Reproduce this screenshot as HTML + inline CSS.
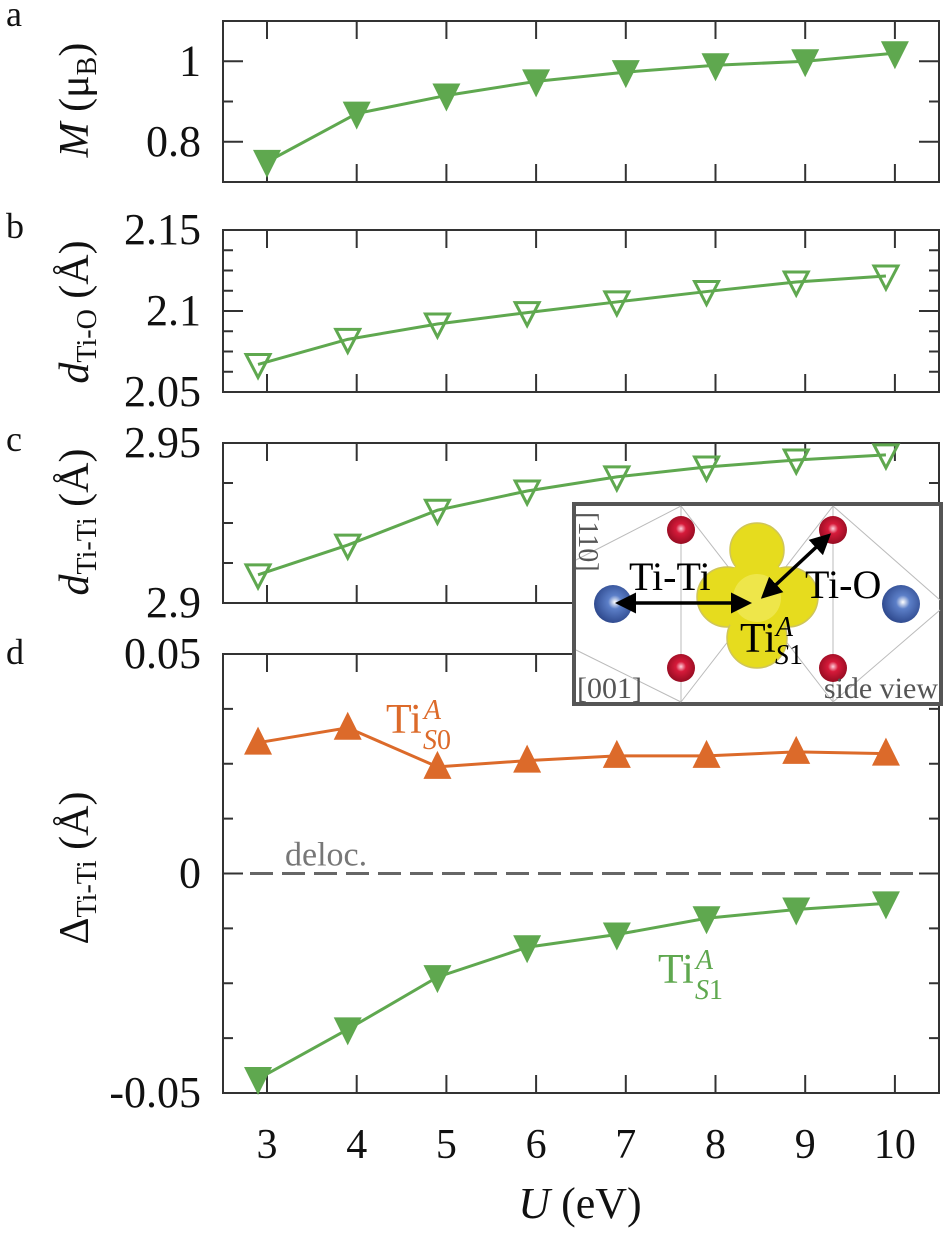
<!DOCTYPE html>
<html><head><meta charset="utf-8">
<style>
html,body{margin:0;padding:0;background:#fff;}
svg, svg text{font-family:"Liberation Serif","Times New Roman",serif;}
</style></head>
<body>
<svg id="fig" width="950" height="1232" viewBox="0 0 950 1232" xmlns="http://www.w3.org/2000/svg"></svg>
<script>
// ---- data ----
const uValues = [3, 4, 5, 6, 7, 8, 9, 10];
const uPlotted = [2.9, 3.9, 4.9, 5.9, 6.9, 7.9, 8.9, 9.9];
const xTickLabels = ["3","4","5","6","7","8","9","10"];
const momentM = [0.75, 0.87, 0.915, 0.95, 0.973, 0.99, 1.0, 1.02];
const dTiO = [2.067, 2.0825, 2.092, 2.099, 2.1056, 2.112, 2.1179, 2.1216];
const dTiTi = [2.9088, 2.9181, 2.929, 2.935, 2.9394, 2.9425, 2.9447, 2.9463];
const deltaS0 = [0.0298, 0.0332, 0.0243, 0.0257, 0.0268, 0.0268, 0.0277, 0.0273];
const deltaS1 = [-0.0468, -0.0355, -0.0236, -0.0168, -0.0139, -0.0102, -0.0082, -0.0068];
const aTicks = ["0.8","1"];
const bTicks = ["2.05","2.1","2.15"];
const cTicks = ["2.9","2.95"];
const dTicks = ["-0.05","0","0.05"];

const NS = "http://www.w3.org/2000/svg";
const svg = document.getElementById('fig');
const GREEN = "#5fa84f", ORANGE = "#dc6a2a", AXC = "#333";
const SERIF = '"Liberation Serif", "Times New Roman", serif';
function el(tag, attrs, parent){
  const e = document.createElementNS(NS, tag);
  for (const k in attrs) e.setAttribute(k, attrs[k]);
  (parent||svg).appendChild(e);
  return e;
}
const L = 223, R = 939;
function xs(u){ return 267 + (u - 3) * 89.7; }

function panel(name, top, bot, vmin, vmax, majors, labels, minorStep){
  const g = el('g', {});
  
  
  const ys = v => bot - (v - vmin) / (vmax - vmin) * (bot - top);
  const frame = el('rect', {x:L, y:top, width:R-L, height:bot-top, fill:'none', stroke:AXC, 'stroke-width':2}, g);
  
  
  uValues.forEach(u => {
    const x = xs(u);
    el('line', {x1:x, y1:top, x2:x, y2:top+18, stroke:AXC, 'stroke-width':2}, g);
    el('line', {x1:x, y1:bot, x2:x, y2:bot-18, stroke:AXC, 'stroke-width':2}, g);
  });
  const n = Math.round((vmax - vmin) / minorStep);
  for (let i = 1; i < n; i++){
    const v = vmin + i * minorStep;
    const isMajor = majors.some(m => Math.abs(m - v) < 1e-9);
    const len = isMajor ? 20 : 10;
    const y = ys(v);
    el('line', {x1:L, y1:y, x2:L+len, y2:y, stroke:AXC, 'stroke-width':2}, g);
    el('line', {x1:R, y1:y, x2:R-len, y2:y, stroke:AXC, 'stroke-width':2}, g);
  }
  majors.forEach((m, i) => {
    const t = el('text', {x:201, y:ys(m)+14, 'text-anchor':'end', 'font-size':44, fill:'#111', 'font-family':SERIF}, g);
    t.textContent = labels[i];
    
    
  });
  return {g, ys};
}
function series(p, xsArr, vals, color, kind, sname){
  const g = el('g', {}, p.g);
  
  
  const pts = vals.map((v, i) => [xs(xsArr[i]), p.ys(v)]);
  el('polyline', {points:pts.map(q=>q.join(',')).join(' '), fill:'none', stroke:color, 'stroke-width':3}, g);
  pts.forEach(([x, y]) => {
    let d;
    if (kind === 'up') d = `M${x-14},${y+12} L${x+14},${y+12} L${x},${y-16} Z`;
    else d = `M${x-14},${y-12} L${x+14},${y-12} L${x},${y+16} Z`;
    const m = el('path', {d}, g);
    if (kind === 'open') { m.setAttribute('fill','none'); m.setAttribute('stroke',color); m.setAttribute('stroke-width',3); m.setAttribute('d', `M${x-12},${y-10} L${x+12},${y-10} L${x},${y+13} Z`); }
    else m.setAttribute('fill', color);
    
    
  });
}
function text(x, y, s, size, attrs, name){
  const t = el('text', Object.assign({x, y, 'font-size':size, 'font-family':SERIF}, attrs||{}));
  t.innerHTML = s;
  
  
  return t;
}

// panel a
const pa = panel('panel-a', 21, 182, 0.7, 1.1, [0.8, 1.0], aTicks, 0.1);
series(pa, uValues, momentM, GREEN, 'down', 'moment-series');
// panel b
const pb = panel('panel-b', 230, 392, 2.05, 2.15, [2.05, 2.1, 2.15], bTicks, 0.0125);
series(pb, uPlotted, dTiO, GREEN, 'open', 'ti-o-distance-series');
// panel c
const pc = panel('panel-c', 443, 603, 2.9, 2.95, [2.9, 2.95], cTicks, 0.0125);
series(pc, uPlotted, dTiTi, GREEN, 'open', 'ti-ti-distance-series');
// panel d
const pd = panel('panel-d', 654, 1093, -0.05, 0.05, [-0.05, 0, 0.05], dTicks, 0.0125);
const z = pd.ys(0);
const dl = el('line', {x1:250, y1:z, x2:915, y2:z, stroke:'#666', 'stroke-width':3, 'stroke-dasharray':'23,9'}, pd.g);


text(285, z-8, 'deloc.', 34, {fill:'#777'}, 'deloc-label');
series(pd, uPlotted, deltaS0, ORANGE, 'up', 'ti-s0-series');
series(pd, uPlotted, deltaS1, GREEN, 'down', 'ti-s1-series');
text(386, 733, 'Ti<tspan font-style="italic" font-size="28" dx="2" dy="-14">A</tspan><tspan font-style="italic" font-size="28" dx="-18" dy="30">S</tspan><tspan font-size="28" dy="0">0</tspan>', 42, {fill:ORANGE}, 'ti-s0-label');
text(658, 983, 'Ti<tspan font-style="italic" font-size="28" dx="2" dy="-14">A</tspan><tspan font-style="italic" font-size="28" dx="-18" dy="30">S</tspan><tspan font-size="28" dy="0">1</tspan>', 42, {fill:GREEN}, 'ti-s1-label');

// panel letters
[['a',6,26],['b',6,238],['c',6,451],['d',6,664]].forEach(([s,x,y]) => text(x, y, s, 36, {fill:'#111'}, 'panel-letter-' + s));

// y titles
function ytitle(cx, cy, html, name){
  text(0, 0, html, 42, {'text-anchor':'middle', fill:'#111', transform:`translate(${cx},${cy}) rotate(-90)`}, name);
}
ytitle(88, 100, '<tspan font-style="italic">M</tspan> (μ<tspan font-size="28" dy="8">B</tspan><tspan dy="-8">)</tspan>', 'y-axis-title-a');
ytitle(88, 312, '<tspan font-style="italic">d</tspan><tspan font-size="28" dy="8">Ti-O</tspan><tspan dy="-8"> (Å)</tspan>', 'y-axis-title-b');
ytitle(88, 522, '<tspan font-style="italic">d</tspan><tspan font-size="28" dy="8">Ti-Ti</tspan><tspan dy="-8"> (Å)</tspan>', 'y-axis-title-c');
ytitle(88, 868, 'Δ<tspan font-size="28" dy="8">Ti-Ti</tspan><tspan dy="-8"> (Å)</tspan>', 'y-axis-title-d');

// x tick labels + title
uValues.forEach((u, i) => text(xs(u), 1158, xTickLabels[i], 42, {'text-anchor':'middle', fill:'#111'}, 'x-tick-label'));
text(580, 1218, '<tspan font-style="italic">U</tspan> (eV)', 44, {'text-anchor':'middle', fill:'#111'}, 'x-axis-title');

// inset
const ig = el('g', {});


const defs = el('defs', {});
defs.innerHTML = `
<radialGradient id="gRed" cx="0.5" cy="0.45" r="0.6"><stop offset="0" stop-color="#ffd0dc"/><stop offset="0.3" stop-color="#d61a3a"/><stop offset="1" stop-color="#8c0a1e"/></radialGradient>
<radialGradient id="gBlue" cx="0.55" cy="0.45" r="0.6"><stop offset="0" stop-color="#ffffff"/><stop offset="0.3" stop-color="#5c7fc8"/><stop offset="1" stop-color="#2a4488"/></radialGradient>
<marker id="ah" markerWidth="6" markerHeight="6" refX="4" refY="3" orient="auto-start-reverse"><path d="M0,0 L6,3 L0,6 Z" fill="#000"/></marker>`;
el('rect', {x:574, y:504, width:367, height:200, fill:'#fff', stroke:'#555', 'stroke-width':4}, ig);
const gl = el('g', {stroke:'#bbb', 'stroke-width':1}, ig);
[[576,560,681,506],[576,650,681,702],[681,506,833,702],[681,702,833,506],[833,506,940,600],[833,702,940,610],[681,506,681,702],[833,506,833,702]].forEach(l=>el('line',{x1:l[0],y1:l[1],x2:l[2],y2:l[3]},gl));
const blob = el('g', {fill:'#e6dc1e', stroke:'#cfc55a', 'stroke-width':1.5}, ig);


[[757,550,27],[727,597,30],[788,597,30],[757,638,30]].forEach(([x,y,r]) => el('circle', {cx:x, cy:y, r}, blob));
el('circle', {cx:757, cy:598, r:38, fill:'#e6dc1e', stroke:'none'}, blob);
el('circle', {cx:757, cy:598, r:24, fill:'#eee64a', stroke:'none'}, blob);
[[681,530],[833,530],[681,668],[833,668]].forEach(([x,y]) => { const c = el('circle', {cx:x, cy:y, r:14, fill:'url(#gRed)'}, ig);   });
[[613,604],[901,604]].forEach(([x,y]) => { const c = el('circle', {cx:x, cy:y, r:19, fill:'url(#gBlue)'}, ig);   });
el('line', {x1:622, y1:603, x2:745, y2:603, stroke:'#000', 'stroke-width':3.5, 'marker-start':'url(#ah)', 'marker-end':'url(#ah)'}, ig);
el('line', {x1:766, y1:594, x2:826, y2:538, stroke:'#000', 'stroke-width':3.5, 'marker-start':'url(#ah)', 'marker-end':'url(#ah)'}, ig);
text(629, 590, 'Ti-Ti', 40, {fill:'#000'}, 'ti-ti-bond-label');
text(805, 598, 'Ti-O', 40, {fill:'#000'}, 'ti-o-bond-label');
text(740, 652, 'Ti<tspan font-style="italic" font-size="28" dx="0" dy="-16">A</tspan><tspan font-style="italic" font-size="28" dx="-18" dy="28">S</tspan><tspan font-size="28">1</tspan>', 42, {fill:'#000'}, 'ti-s1-inset-label');
text(0, 0, '[110]', 28, {fill:'#555', transform:'translate(579,512) rotate(90)'}, 'direction-110-label');
text(577, 698, '[001]', 30, {fill:'#555'}, 'direction-001-label');
text(938, 698, 'side view', 30, {fill:'#555', 'text-anchor':'end'}, 'side-view-label');
</script>
</body></html>
